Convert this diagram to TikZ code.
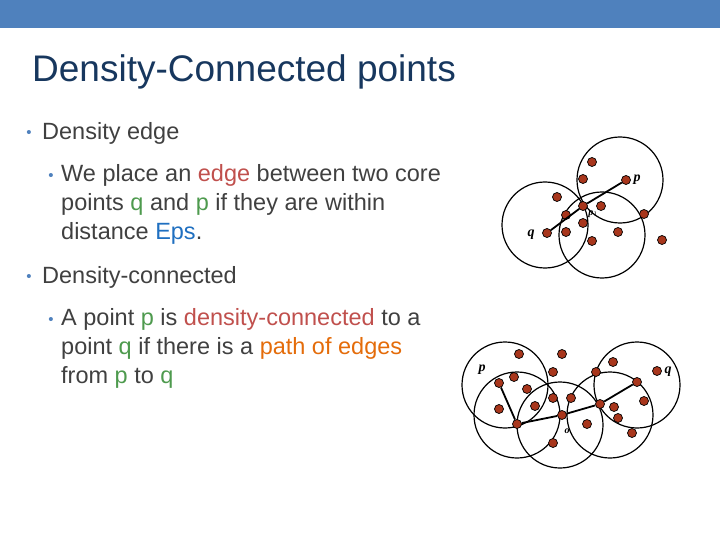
\documentclass[tikz,border=0pt]{standalone}
\usepackage{fontspec}
\setmainfont{Liberation Sans}
\newfontfamily\serifit{Liberation Serif}
\definecolor{barblue}{HTML}{4F81BD}
\definecolor{titlec}{HTML}{17375E}
\definecolor{txt}{HTML}{404040}
\definecolor{redw}{HTML}{C0504D}
\definecolor{greenw}{HTML}{4E9A4E}
\definecolor{bluew}{HTML}{1F6FC0}
\definecolor{orangew}{HTML}{E46C0A}
\definecolor{dotc}{HTML}{A8361C}
\begin{document}
\begin{tikzpicture}[x=1pt,y=-1pt,
  dot/.style={circle,draw=black,fill=dotc,inner sep=0pt,minimum size=9pt,line width=0.7pt},
  ring/.style={draw=black,line width=1.2pt},
  edge/.style={draw=black,line width=1.8pt},
  lab/.style={font=\serifit\itshape\bfseries\fontsize{14}{14}\selectfont,inner sep=0pt},
  bul/.style={text=barblue,font=\fontsize{15}{15}\selectfont,inner sep=0pt},
  txtn/.style={anchor=west,inner sep=0pt,text=txt,align=left,font=\fontsize{23.5}{29}\selectfont}]
\useasboundingbox (0,0) rectangle (720,540);
\fill[barblue] (0,0) rectangle (720,28);
\node[anchor=west,inner sep=0pt,text=titlec,font=\fontsize{37}{37}\selectfont] (title) at (32,72) {Density-Connected points};
\node[bul] (u1) at (29,134) {•};
\node[txtn] (b1) at (42,133) {Density edge};
\node[bul] (u2) at (51,177) {•};
\node[txtn,anchor=north west] (b2) at (61,164) {We place an {\color{redw}edge} between two core\\
points {\color{greenw}q} and {\color{greenw}p} if they are within\\
distance {\color{bluew}Eps}.};
\node[bul] (u3) at (29,278) {•};
\node[txtn] (b3) at (42,277) {Density-connected};
\node[bul] (u4) at (51,321) {•};
\node[txtn,anchor=north west] (b4) at (61,308) {A point {\color{greenw}p} is {\color{redw}density-connected} to a\\
point {\color{greenw}q} if there is a {\color{orangew}path of edges}\\
from {\color{greenw}p} to {\color{greenw}q}};
% top diagram
\draw[ring] (545,225) circle (43);
\draw[ring] (620,180) circle (43);
\draw[ring] (602,235) circle (43);
\foreach \n/\x/\y in {t1/592/162,t2/583/179,tp/626/180,t4/557/197,tp1/583/206,t6/601/206,t7/566/215,t8/583/223,tq/547/233,t10/566/232,t11/592/241,t12/618/232,t13/644/214,t14/662/240}
  \node[dot] (\n) at (\x,\y) {};
\draw[edge] (tq) -- (tp1) -- (tp);
\node[lab] (lp) at (637,180) {p};
\node[lab] (lq) at (531,235) {q};
\node[lab,font=\serifit\itshape\bfseries\fontsize{10}{10}\selectfont] (lp1) at (593,214) {p$_1$};
% bottom diagram
\draw[ring] (505,385) circle (43);
\draw[ring] (517,415) circle (43);
\draw[ring] (560,425) circle (43);
\draw[ring] (610,415) circle (43);
\draw[ring] (637,385) circle (43);
\foreach \n/\x/\y in {s1/519/354,s2/562/354,s3/553/372,s4/596/372,s5/613/362,sq/657/371,sp/499/383,s8/514/377,s9/527/389,sc4/637/382,s11/553/398,s12/571/398,s13/535/406,s14/499/409,sc1/517/424,so/562/415,sc3/600/404,s18/614/407,s19/618/418,s20/644/401,s21/587/424,s22/632/433,s23/553/443}
  \node[dot] (\n) at (\x,\y) {};
\draw[edge] (sp) -- (sc1) -- (so) -- (sc3) -- (sc4);
\node[lab] (blp) at (482,370) {p};
\node[lab] (blq) at (668,372) {q};
\node[lab,font=\serifit\itshape\bfseries\fontsize{10}{10}\selectfont] (blo) at (567,431) {o};
\end{tikzpicture}
\end{document}
